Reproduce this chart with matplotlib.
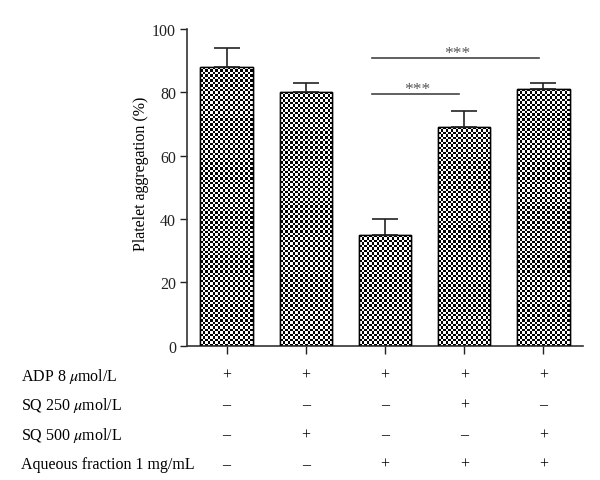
import numpy as np
import matplotlib
matplotlib.use("Agg")
import matplotlib.pyplot as plt
from matplotlib.transforms import blended_transform_factory

plt.rcParams['font.family'] = ['Liberation Serif', 'DejaVu Serif']
plt.rcParams['mathtext.fontset'] = 'stix'

values = [88, 80, 35, 69, 81]
errors = [6, 3, 5, 5, 2]
row_labels = ["ADP 8 $\\mu$mol/L", "SQ 250 $\\mu$mol/L", "SQ 500 $\\mu$mol/L", "Aqueous fraction 1 mg/mL"]
row_signs = [
    ["+", "+", "+", "+", "+"],
    ["–", "–", "–", "+", "–"],
    ["–", "+", "–", "–", "+"],
    ["–", "–", "+", "+", "+"],
]
sig_pairs = [(2, 3, 79.5, "***"), (2, 4, 90.8, "***")]
yticks = [0, 20, 40, 60, 80, 100]

W, H = 600, 481
fig = plt.figure(figsize=(6, 4.81), dpi=100)
ax = fig.add_axes([187/W, 1-346.7/H, (583-187)/W, (346.7-30)/H])

x = np.arange(len(values))
bw = 0.66
bars = ax.bar(x, values, width=bw, color='white', edgecolor='black', linewidth=1.0, zorder=2)
ax.errorbar(x, values, yerr=[np.zeros(len(errors)), errors], fmt='none', ecolor='#222222',
            elinewidth=1.2, capsize=9.5, capthick=1.2, zorder=3)

ax.set_xlim(-0.5, 4.5)
ax.set_ylim(0, 100)

# checkerboard fill clipped to each bar
cell_px = 2.45
px_per_x = (583-187)/5.0
px_per_y = (346.7-30)/100.0
for b in bars:
    x0, w = b.get_x(), b.get_width()
    h = b.get_height()
    nx = max(1, int(round(w*px_per_x/cell_px)))
    ny = max(1, int(round(h*px_per_y/cell_px)))
    ii, jj = np.indices((ny, nx))
    board = ((ii + jj) % 2).astype(float)
    im = ax.imshow(board, cmap='gray', vmin=0, vmax=1, extent=[x0, x0+w, 0, h],
                   interpolation='nearest', aspect='auto', zorder=2.5, origin='lower')
    im.set_clip_path(b)
    bb = plt.Rectangle((x0, 0), w, h, fill=False, edgecolor='black', linewidth=1.0, zorder=2.6)
    ax.add_patch(bb)

ax.set_yticks(yticks)
ax.set_xticks(x)
ax.set_xticklabels([])
ax.tick_params(axis='y', direction='out', length=5, width=1.0, labelsize=11.5, colors='#222222', pad=3)
ax.tick_params(axis='x', direction='out', length=6, width=1.0, colors='#222222')
for s in ['top', 'right']:
    ax.spines[s].set_visible(False)
for s in ['left', 'bottom']:
    ax.spines[s].set_linewidth(1.2)
    ax.spines[s].set_color('#333333')
ax.set_ylabel("Platelet aggregation (%)", fontsize=11.5)
ax.yaxis.set_label_coords(-0.097, 0.545)

# significance lines
for a, b_, yv, txt in sig_pairs:
    xs = a - 0.165
    xe = b_ - 0.06
    ax.plot([xs, xe], [yv, yv], color='#444444', lw=1.2, zorder=3, clip_on=False)
    ax.text((xs+xe)/2 + 0.02, yv + 0.4, txt, ha='center', va='baseline', fontsize=12.5, color='#555555')

# treatment table
trans = blended_transform_factory(ax.transData, fig.transFigure)
row_y = [376, 405.5, 435.5, 465]
for r, (lab, signs) in enumerate(zip(row_labels, row_signs)):
    yf = 1 - row_y[r]/H
    fig.text(21/W, yf, lab, ha='left', va='center', fontsize=11.5)
    for i, s in enumerate(signs):
        ax.text(x[i], yf, s, transform=trans, ha='center', va='center', fontsize=11.5)

fig.savefig("out.png", dpi=100)
